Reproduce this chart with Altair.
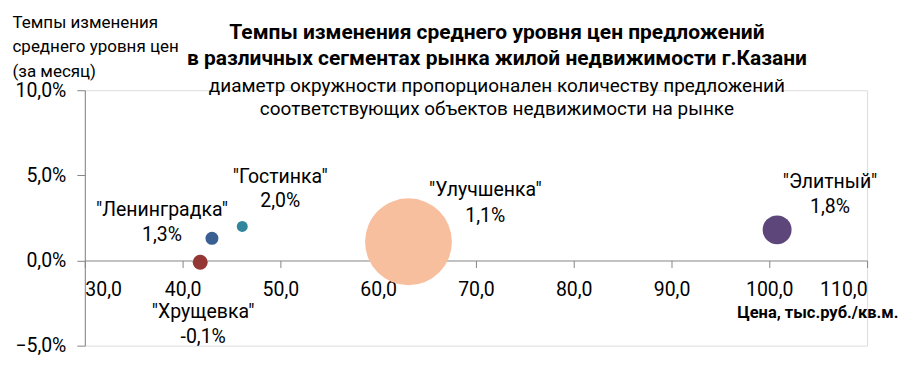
import altair as alt
import pandas as pd

# ---- data ----
names = ['"Хрущевка"', '"Ленинградка"', '"Гостинка"', '"Улучшенка"', '"Элитный"']
price = [41.8, 43.0, 46.1, 63.1, 100.8]          # тыс.руб./кв.м.
change = [-0.1, 1.3, 2.0, 1.1, 1.8]              # % за месяц
offers = [225, 170, 120, 7570, 840]              # relative number of offers (bubble area)
x_ticks = [30, 40, 50, 60, 70, 80, 90, 100, 110]
y_ticks = [-5, 0, 5, 10]

# ---- styles ----
colors = ["#943634", "#3a5f92", "#31859c", "#f8bf9f", "#5d4679"]
label_offsets = {  # dx, dy of name line, dy of value line (pixels from bubble centre)
    '"Хрущевка"': (3, 50, 75),
    '"Ленинградка"': (-50, -28, -3),
    '"Гостинка"': (38, -50, -25),
    '"Улучшенка"': (77, -52, -26),
    '"Элитный"': (53, -48, -23),
}
FONT = "Roboto"

df = pd.DataFrame({
    "name": names,
    "price": price,
    "change": change,
    "offers": offers,
    "value_label": [f"{v:.1f}".replace(".", ",") + "%" for v in change],
})

W, H = 784, 256
zero_offset = -(H * 5 / 15)

x = alt.X(
    "price:Q",
    scale=alt.Scale(domain=[30, 110], nice=False, zero=False),
    axis=alt.Axis(
        values=x_ticks, grid=False, offset=zero_offset,
        labelExpr="replace(format(datum.value, '.1f'), '.', ',')",
        labelFont=FONT, labelFontSize=19.5, labelColor="#000000", labelPadding=13,
        tickColor="#868686", tickSize=7, domainColor="#868686",
        title="Цена, тыс.руб./кв.м.", titleFont=FONT, titleFontSize=16.5, titleFontWeight="bold",
        titleColor="#000000", titleX=815, titleY=52, titleAlign="right", titleBaseline="middle",
        titleAnchor="end",
    ),
)
y = alt.Y(
    "change:Q",
    scale=alt.Scale(domain=[-5, 10], nice=False, zero=False),
    axis=alt.Axis(
        values=y_ticks, grid=False,
        labelExpr="replace(format(datum.value, '.1f'), '.', ',') + '%'",
        labelFont=FONT, labelFontSize=19.5, labelColor="#000000", labelPadding=11,
        tickColor="#868686", tickSize=8, domainColor="#868686",
        title=["Темпы изменения", "среднего уровня цен", "(за месяц)"],
        titleFont=FONT, titleFontSize=17, titleFontWeight="normal", titleColor="#000000",
        titleAngle=0, titleAlign="left", titleBaseline="top", titleX=-73, titleY=-76,
        titleLineHeight=24.5,
    ),
)

bubbles = alt.Chart(df).mark_circle(opacity=1).encode(
    x=x, y=y,
    size=alt.Size("offers:Q", scale=alt.Scale(domain=[0, 7570], range=[0, 7570]), legend=None),
    color=alt.Color("name:N", scale=alt.Scale(domain=names, range=colors), legend=None),
)

layers = [bubbles]
for n, (dx, dy1, dy2) in label_offsets.items():
    base = alt.Chart(df).transform_filter(alt.datum.name == n)
    layers.append(base.mark_text(font=FONT, fontSize=19.5, color="#000000", dx=dx, dy=dy1,
                                 baseline="middle", align="center")
                  .encode(x="price:Q", y="change:Q", text="name:N"))
    layers.append(base.mark_text(font=FONT, fontSize=19.5, color="#000000", dx=dx, dy=dy2,
                                 baseline="middle", align="center")
                  .encode(x="price:Q", y="change:Q", text="value_label:N"))

chart = alt.layer(*layers).properties(
    width=W, height=H,
    autosize=alt.AutoSizeParams(type="none"),
    padding={"left": 77, "top": 82, "right": 32, "bottom": 14},
    title=alt.TitleParams(
        text=["Темпы изменения среднего уровня цен предложений",
              "в различных сегментах рынка жилой недвижимости г.Казани"],
        subtitle=["диаметр окружности пропорционален количеству предложений",
                  "соответствующих объектов недвижимости на рынке"],
        font=FONT, fontSize=21, fontWeight="bold", color="#000000", lineHeight=26,
        subtitleFont=FONT, subtitleFontSize=19, subtitleColor="#000000",
        subtitleLineHeight=23, subtitlePadding=8,
        anchor="middle", dx=21, offset=-106,
    ),
).configure_view(stroke=None).configure(background="#ffffff")

chart.save("out.html", embed_options={"renderer": "svg", "actions": False})
